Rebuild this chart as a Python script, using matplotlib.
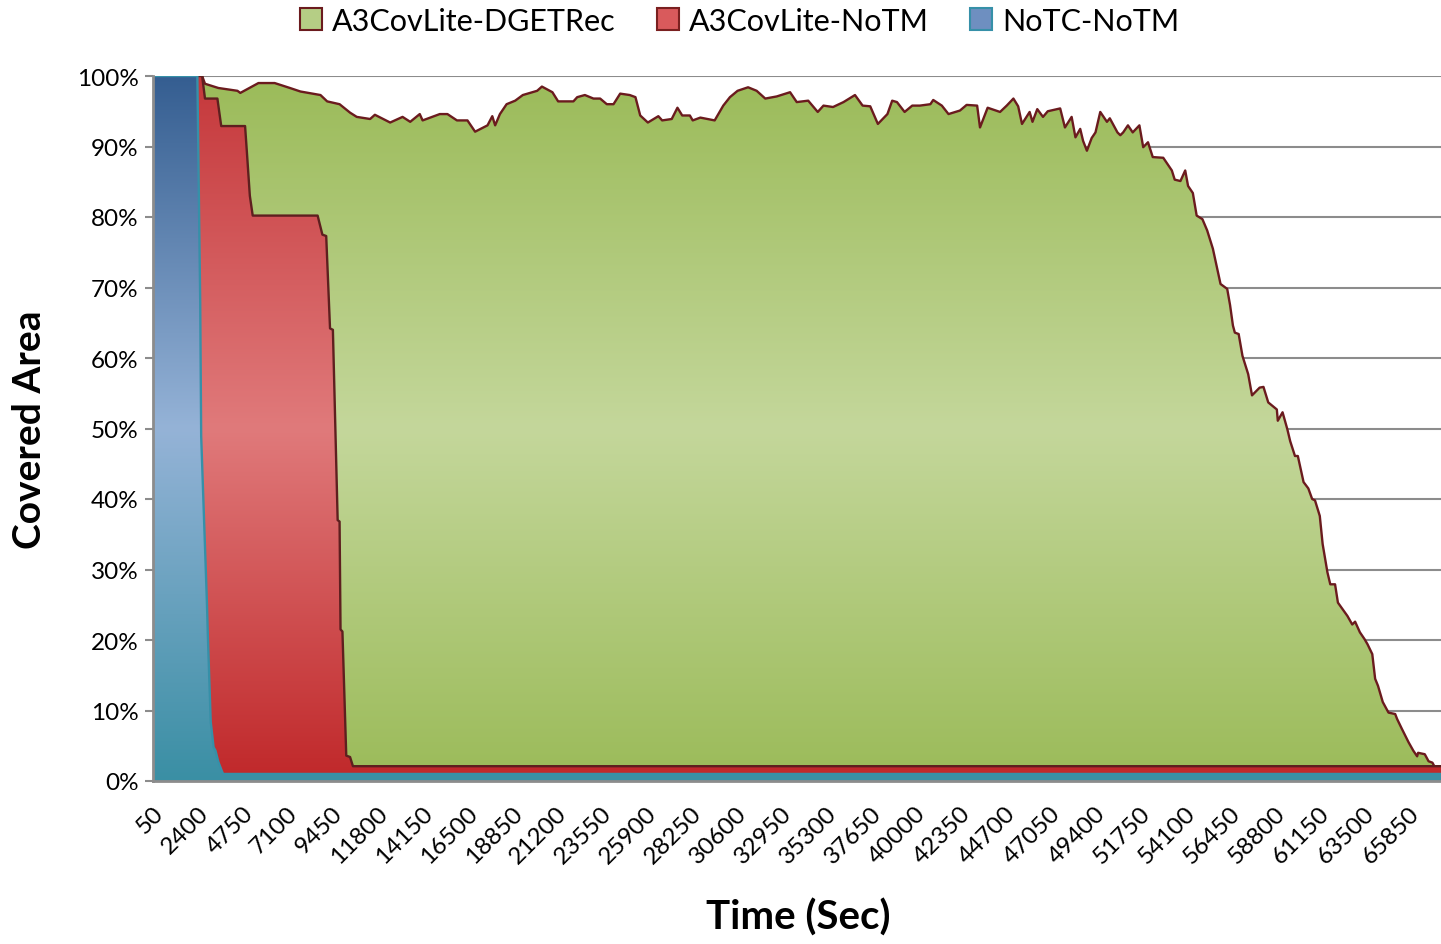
import numpy as np
import matplotlib
matplotlib.use("Agg")
import matplotlib.pyplot as plt
from matplotlib.colors import LinearSegmentedColormap
from matplotlib.patches import Patch

plt.rcParams['font.family'] = ['Lato', 'DejaVu Sans']

# covered area (%) over time (sec)
dget_t = [50, 2650, 2800, 3500, 4500, 4650, 5600, 6450, 7250, 7800, 8850, 9200,
          9850, 10400, 10750, 11450, 11700, 12500, 13150, 13550, 14050, 14200,
          15100, 15500, 16000, 16550, 16950, 17600, 17850, 18000, 18250, 18600,
          19050, 19450, 20200, 20450, 21000, 21300, 22100, 22300, 22700, 23150,
          23500, 23850, 24200, 24550, 25050, 25350, 25600, 26000, 26550, 26750,
          27250, 27550, 27800, 28200, 28350, 28750, 29500, 29950, 30300, 30700,
          31250, 31700, 32150, 32750, 33450, 33800, 34400, 34900, 35200, 35700,
          36250, 36850, 37250, 37650, 38050, 38550, 38800, 39050, 39450, 39850,
          40250, 40800, 40950, 41400, 41750, 42350, 42700, 43250, 43400, 43800,
          44450, 44800, 45150, 45400, 45600, 46000, 46150, 46400, 46700, 46950,
          47600, 47850, 48200, 48400, 48650, 48800, 49000, 49250, 49450, 49700,
          50050, 50200, 50600, 50750, 50900, 51150, 51400, 51750, 51950, 52200,
          52450, 53000, 53450, 53600, 53900, 54150, 54300, 54550, 54750, 55050,
          55300, 55600, 56000, 56350, 56500, 56650, 56750, 56950, 57150, 57450,
          57650, 58050, 58250, 58500, 58950, 59000, 59250, 59500, 59650, 59900,
          60050, 60350, 60600, 60800, 60950, 61200, 61350, 61600, 61750, 62000,
          62150, 62650, 62900, 63050, 63300, 63550, 63700, 63950, 64100, 64250,
          64500, 64800, 65150, 65250, 65500, 65850, 66100, 66300, 66350, 66700,
          66900, 67100, 67200, 67550]
dget_v = [100, 100, 98.9, 98.3, 97.9, 97.6, 99.0, 99.0, 98.3, 97.8, 97.3, 96.4,
          96.0, 94.8, 94.2, 93.9, 94.5, 93.4, 94.2, 93.5, 94.6, 93.7,
          94.6, 94.6, 93.7, 93.7, 92.1, 93.0, 94.3, 93.0, 94.6, 96.0,
          96.5, 97.3, 97.9, 98.5, 97.7, 96.4, 96.4, 97.0, 97.3, 96.8,
          96.8, 96.0, 96.0, 97.5, 97.3, 97.0, 94.4, 93.4, 94.3, 93.7,
          93.9, 95.5, 94.4, 94.4, 93.7, 94.1, 93.7, 95.8, 97.0, 97.9,
          98.4, 97.9, 96.8, 97.1, 97.7, 96.3, 96.5, 94.9, 95.8, 95.6,
          96.3, 97.3, 95.8, 95.7, 93.2, 94.6, 96.5, 96.3, 94.9, 95.8,
          95.8, 96.0, 96.6, 95.8, 94.6, 95.1, 95.9, 95.8, 92.7, 95.5,
          94.9, 95.8, 96.8, 95.7, 93.2, 94.9, 93.5, 95.3, 94.2, 95.0,
          95.4, 92.7, 94.2, 91.3, 92.5, 90.8, 89.4, 91.2, 92.0, 94.9,
          93.5, 94.0, 92.0, 91.6, 92.0, 93.0, 92.0, 93.0, 89.9, 90.6,
          88.5, 88.4, 86.6, 85.3, 85.1, 86.6, 84.4, 83.4, 80.2, 79.7,
          78.1, 75.5, 70.5, 69.8, 67.5, 64.6, 63.6, 63.4, 60.3, 57.7,
          54.7, 55.8, 55.9, 53.7, 52.7, 51.1, 52.3, 49.9, 48.2, 46.1,
          46.1, 42.4, 41.5, 40.0, 39.8, 37.6, 33.6, 29.6, 27.9, 27.9,
          25.3, 23.4, 22.2, 22.6, 21.1, 20.1, 19.4, 18.0, 14.5, 13.5,
          11.2, 9.7, 9.5, 8.8, 7.4, 5.5, 4.3, 3.5, 4.0, 3.8,
          2.8, 2.6, 2.1, 2.1]

notm_t = [50, 2650, 2800, 3450, 3650, 4900, 5000, 5150, 5300, 8700, 8950, 9150,
          9350, 9500, 9750, 9850, 9900, 10000, 10200, 10400, 10550, 67550]
notm_v = [100, 100, 96.8, 96.8, 92.9, 92.9, 89, 83, 80.2, 80.2, 77.5, 77.3,
          64.2, 64.0, 37.0, 36.8, 21.5, 21.2, 3.6, 3.4, 2.1, 2.1]

notc_t = [50, 2400, 2550, 2600, 2900, 2950, 3100, 3250, 3350, 3500, 3700, 3750, 67550]
notc_v = [100, 100, 67.9, 48.9, 25.4, 20.6, 8.4, 4.8, 4.3, 2.7, 1.3, 1.0, 1.0]

tick_labels = ['50', '2400', '4750', '7100', '9450', '11800', '14150', '16500',
               '18850', '21200', '23550', '25900', '28250', '30600', '32950',
               '35300', '37650', '40000', '42350', '44700', '47050', '49400',
               '51750', '54100', '56450', '58800', '61150', '63500', '65850']

x_end = 67550


def gradient_area(ax, t, v, stops, edge, z, lw=1.7):
    poly = ax.fill_between(t, 0, v, facecolor='none', edgecolor='none', zorder=z)
    cmap = LinearSegmentedColormap.from_list('grad', stops)
    grad = np.linspace(0, 1, 256).reshape(-1, 1)
    im = ax.imshow(grad, cmap=cmap, extent=(t[0], x_end, 0, 100),
                   origin='lower', aspect='auto', zorder=z, interpolation='bilinear')
    im.set_clip_path(poly.get_paths()[0], transform=ax.transData)
    ax.plot(t, v, color=edge, lw=lw, zorder=z + 0.1, solid_joinstyle='round')


fig = plt.figure(figsize=(14.41, 9.45), dpi=100)
ax = fig.add_axes([152.5 / 1441, 1 - 782 / 945, 1 - 152.5 / 1441, 705 / 945])

green_stops = [(0, '#9BBB59'), (0.5, '#C4D79B'), (1, '#9BBB59')]
red_stops = [(0, '#C0282A'), (0.5, '#E07A7B'), (1, '#C5383B')]
blue_stops = [(0, '#3A8FA4'), (0.5, '#95B3D7'), (1, '#355E91')]

gradient_area(ax, dget_t, dget_v, green_stops, '#6B1B1E', 2)
gradient_area(ax, notm_t, notm_v, red_stops, '#5E1F1F', 3)
gradient_area(ax, notc_t, notc_v, blue_stops, '#3690A8', 4)

ax.set_xlim(50, x_end)
ax.set_ylim(0, 100)

# gridlines
ax.set_yticks(range(0, 101, 10))
ax.set_yticklabels([f'{p}%' for p in range(0, 101, 10)], fontsize=17.5)
ax.yaxis.grid(True, color='#8C8C8C', lw=1.5, zorder=0)
ax.set_axisbelow(True)

ticks = [int(s) for s in tick_labels]
ax.set_xticks(ticks)
ax.set_xticklabels(tick_labels, rotation=45, ha='right', va='top',
                   rotation_mode='anchor', fontsize=17.5)
ax.tick_params(axis='x', length=0, pad=15)
ax.tick_params(axis='y', length=6, width=1.5, color='#8C8C8C', pad=4)

for side in ['top', 'right']:
    ax.spines[side].set_visible(False)
for side in ['left', 'bottom']:
    ax.spines[side].set_color('#8C8C8C')
    ax.spines[side].set_linewidth(2)
    ax.spines[side].set_zorder(5)

ax.set_ylabel('Covered Area', fontsize=28, fontweight='bold', va='center')
ax.yaxis.set_label_coords((30 - 152.5) / 1288.5, 0.5)
ax.set_xlabel('Time (Sec)', fontsize=29, fontweight='bold', va='center')
ax.xaxis.set_label_coords(0.501, -0.193)

handles = [Patch(facecolor='#B5CE85', edgecolor='#6B1B1E', lw=1.5, label='A3CovLite-DGETRec'),
           Patch(facecolor='#D95A5C', edgecolor='#7A2020', lw=1.5, label='A3CovLite-NoTM'),
           Patch(facecolor='#6E8FC0', edgecolor='#3690A8', lw=1.5, label='NoTC-NoTM')]
fig.legend(handles=handles, loc='center', bbox_to_anchor=(0.5135, 0.977), ncol=3,
           frameon=False, fontsize=22, handlelength=0.7, handleheight=0.7,
           handletextpad=0.35, columnspacing=1.35)

fig.savefig('out.png', dpi=100)
